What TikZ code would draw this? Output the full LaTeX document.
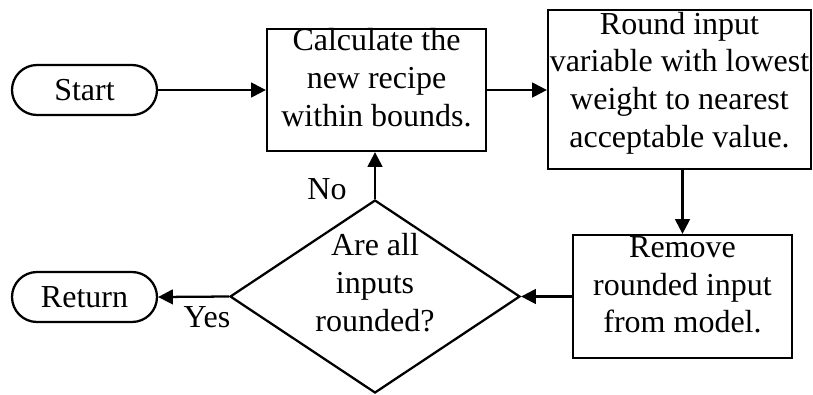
\documentclass[tikz,border=0pt]{standalone}
\usepackage{fontspec}
\setmainfont{Liberation Serif}
\usetikzlibrary{arrows.meta,shapes.misc,shapes.geometric,calc}

\begin{document}
\begin{tikzpicture}[x=0.75pt,y=-0.75pt,
  every node/.style={font=\fontsize{24}{28.3}\selectfont},
  box/.style={draw,line width=1.7pt,rectangle,inner sep=0pt},
  term/.style={draw,line width=1.7pt,rounded rectangle,inner sep=0pt,
               minimum width=108.75pt,minimum height=37.5pt},
  decision/.style={draw,line width=1.7pt,diamond,inner sep=0pt},
  words/.style={align=center,inner sep=0pt},
  flow/.style={line width=1.7pt,-{Triangle[length=11pt,width=11pt]}}]

  \useasboundingbox (0,0) rectangle (813,394);

  % terminals
  \node[term] (start) at (84.5,90) {Start};
  \node[term] (ret)   at (84.5,297) {Return};

  % process boxes
  \node[box,minimum width=164.25pt,minimum height=91.5pt]  (calc) at (376.5,90) {};
  \node[box,minimum width=197.25pt,minimum height=119.25pt] (rnd) at (679.5,89.5) {};
  \node[box,minimum width=164.25pt,minimum height=92.25pt] (rem) at (682.5,296.5) {};

  % decision
  \node[decision,minimum width=217.5pt,minimum height=144.75pt] (dia) at (375,296.5) {};

  % texts inside the shapes
  \node[words] (calctext) at (376.5,77.5) {Calculate the\\new recipe\\within bounds.};
  \node[words] (rndtext)  at (679.5,83)   {Round input\\variable with lowest\\weight to nearest\\acceptable value.};
  \node[words] (remtext)  at (682.5,285)  {Remove\\rounded input\\from model.};
  \node[words] (diatext)  at (375,282.5)  {Are all\\inputs\\rounded?};

  % connectors
  \draw[flow] (start.east) -- (calc.west);
  \draw[flow] (calc.east) -- (calc.east -| rnd.west);
  \draw[flow] (rem.north |- rnd.south) -- (rem.north);
  \draw[flow] (rem.west) -- (dia.east);
  \draw[flow] (dia.north) -- (dia.north |- calc.south);
  \draw[flow] (dia.west) -- (ret.east);

  % branch labels
  \node[inner sep=0pt] (nolabel)  at (327,189) {No};
  \node[inner sep=0pt] (yeslabel) at (207,317) {Yes};
\end{tikzpicture}
\end{document}
